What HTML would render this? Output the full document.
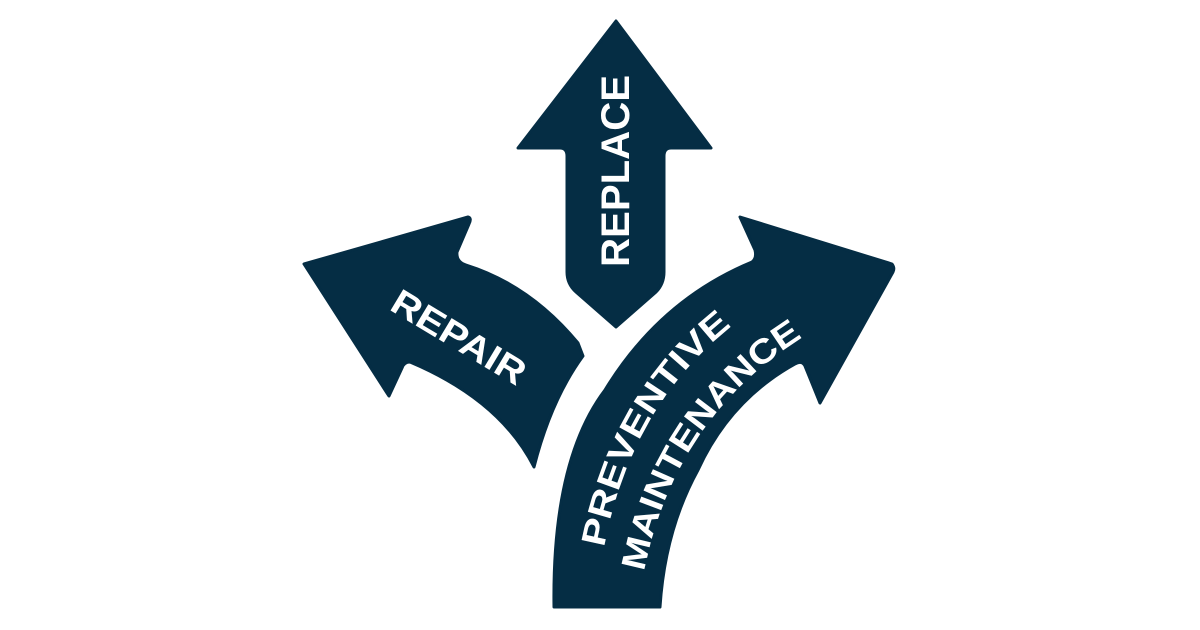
<!DOCTYPE html>
<html><head><meta charset="utf-8"><style>html,body{margin:0;padding:0;background:#fff}svg{display:block}</style></head>
<body>
<svg width="1200" height="630" viewBox="0 0 1200 630" xmlns="http://www.w3.org/2000/svg">
<g fill="#052d44" stroke="#052d44" stroke-width="3" stroke-linejoin="round">
<!-- Replace -->
<path d="M616,21 L711,148 L671,148 Q664,148 664,156 L664,272 Q664,284 656,292 L616,327 L576,292 Q567,284 567,272 L567,156 Q567,148 560,148 L518,148 Z"/>
<!-- Repair -->
<path d="M304,264 L468,217 Q472,218 469,224 L457,252 Q456,262 466,265 Q530,285 578,343 L583,356 Q551,400 534,467 Q500,400 410,362 Q404,362 402,368 L389,396 L387,393 Z"/>
<!-- Preventive Maintenance -->
<path d="M554,607 Q552,460 605,390 Q660,300 752,262 Q757,258 755,250 L740,217 L892,264 Q895,268 893,272 L820,403 L805,366 Q802,360 795,364 Q730,400 698,470 Q665,530 660,607 Z"/>
</g>
<g fill="#fff" font-family="Liberation Sans, sans-serif" font-weight="bold">
<text x="0" y="0" font-size="40" text-anchor="middle" dominant-baseline="central" transform="translate(616,171) rotate(-90)" textLength="192" lengthAdjust="spacingAndGlyphs">REPLACE</text>
<text x="0" y="0" font-size="36" text-anchor="middle" dominant-baseline="central" transform="translate(459,337) rotate(31)" textLength="150" lengthAdjust="spacingAndGlyphs">REPAIR</text>
<path id="p1" d="M604,548 Q632,400 740,320" fill="none"/>
<path id="p2" d="M644,572 Q675,415 808,334" fill="none"/>
<text font-size="34"><textPath href="#p1" textLength="262" lengthAdjust="spacingAndGlyphs">PREVENTIVE</textPath></text>
<text font-size="34"><textPath href="#p2" textLength="292" lengthAdjust="spacingAndGlyphs">MAINTENANCE</textPath></text>
</g>
</svg>
</body></html>
